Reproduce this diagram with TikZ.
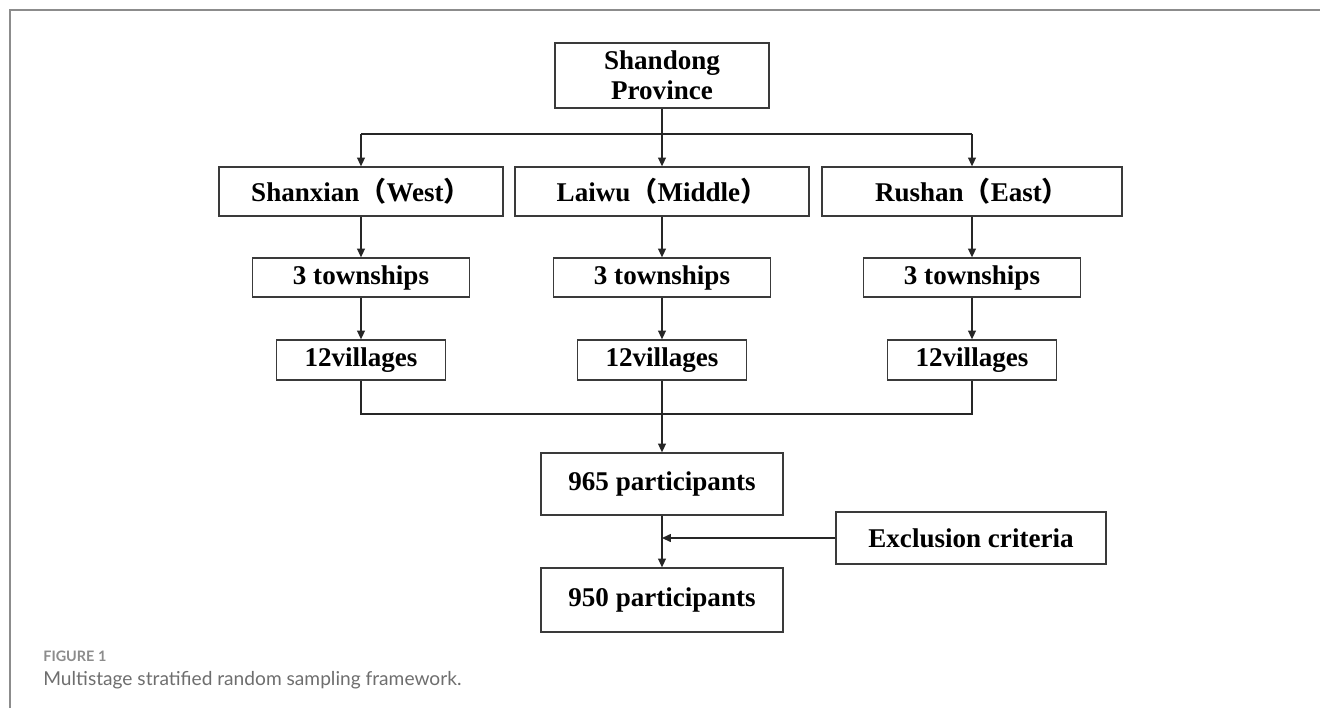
\documentclass[tikz,border=0pt]{standalone}
\usepackage{fontspec}
\setmainfont{Liberation Serif}
\newfontfamily\cjk{Noto Sans CJK SC}
\newfontfamily\capfont{Lato}
\usetikzlibrary{positioning, arrows.meta, calc}

\definecolor{framegray}{HTML}{8C8C8C}
\definecolor{capgray}{HTML}{6E6E6E}
\definecolor{boxline}{HTML}{3A3A3A}

% full-width brackets as printed in the region boxes
\newcommand{\lbr}{{\cjk （}}
\newcommand{\rbr}{{\cjk ）}}

\begin{document}
\begin{tikzpicture}[
            >={Triangle[length=5pt, width=4.5pt]},
            stage/.style={rectangle, draw=boxline, line width=0.75pt, inner sep=0pt, align=center,
                          font=\fontsize{15.4}{17}\selectfont\bfseries},
            link/.style={draw=black!85, line width=0.7pt},
        ]
            \useasboundingbox (0,0) rectangle (26.4,-14.16);

            % Draw the panel frame
            \draw[framegray, line width=1.1pt] (0.2,-14.16) -- (0.2,-0.2) -- (26.4,-0.2);

            % Draw the province node
            \node[stage, minimum width=4.28cm, minimum height=1.30cm] (prov) at (13.24,-1.51) {Shandong\\Province};

            % Draw the region, township and village nodes
            \foreach \name / \x / \w / \txt in {W/7.22/5.68/Shanxian\lbr West\rbr,
                                              M/13.24/5.88/Laiwu\lbr Middle\rbr,
                                              E/19.44/6.00/Rushan\lbr East\rbr} {
                \node[stage, minimum width=\w cm, minimum height=0.98cm] (R-\name) at (\x,-3.83) {\txt};
                \node[stage, minimum width=4.34cm, minimum height=0.78cm] (T-\name) at (\x,-5.55) {3 townships};
                \node[stage, minimum width=3.38cm, minimum height=0.80cm] (V-\name) at (\x,-7.20) {12villages};
            }

            % Draw the participant nodes
            \node[stage, minimum width=4.84cm, minimum height=1.24cm] (P-965) at (13.24,-9.68) {965 participants};
            \node[stage, minimum width=4.84cm, minimum height=1.28cm] (P-950) at (13.24,-12.00) {950 participants};
            \node[stage, minimum width=5.40cm, minimum height=1.04cm] (excl) at (19.42,-10.76) {Exclusion criteria};

            % Connect the province with every region
            \coordinate (bus-top) at (prov.south |- 0,-2.68);
            \draw[link] (prov.south) -- (bus-top);
            \draw[link] (R-W.north |- bus-top) -- (R-E.north |- bus-top);
            \foreach \name in {W,M,E}
                \draw[link, ->] (R-\name.north |- bus-top) -- (R-\name.north);

            % Region -> townships -> villages
            \foreach \name in {W,M,E} {
                \draw[link, ->] (R-\name.south) -- (T-\name.north);
                \draw[link, ->] (T-\name.south) -- (V-\name.north);
            }

            % Collect the villages into the sample
            \coordinate (bus-bot) at (P-965.north |- 0,-8.28);
            \draw[link] (V-W.south) -- (V-W.south |- bus-bot) -- (V-E.south |- bus-bot) -- (V-E.south);
            \draw[link, ->] (V-M.south) -- (P-965.north);

            % Exclusion step
            \coordinate (join) at (P-965.south |- excl.west);
            \draw[link, ->] (P-965.south) -- (P-950.north);
            \draw[link, ->] (excl.west) -- (join);

            % Caption
            \node[anchor=base west, inner sep=0pt, text=framegray, font=\capfont\bfseries\fontsize{8.2}{10}\selectfont] (figlabel) at (0.86,-13.22) {FIGURE 1};
            \node[anchor=base west, inner sep=0pt, text=capgray, font=\capfont\fontsize{10.9}{12}\selectfont] (figcaption) at (0.86,-13.70) {Multistage stratified random sampling framework.};
        \end{tikzpicture}
\end{document}
